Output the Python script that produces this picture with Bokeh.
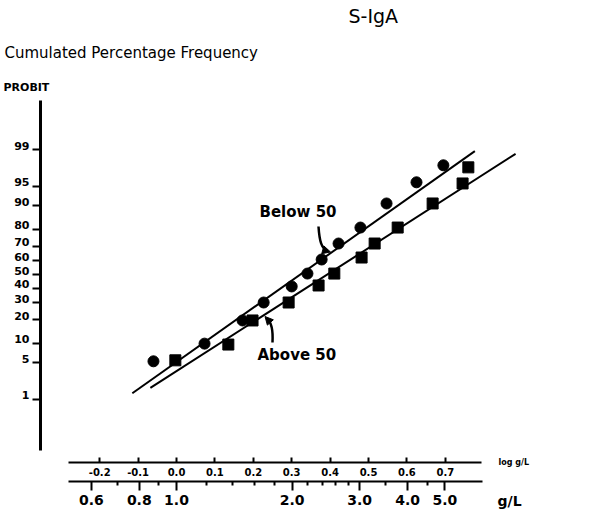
import math
from statistics import NormalDist
from bokeh.plotting import figure
from bokeh.models import (Range1d, LinearAxis, FixedTicker, CustomJSTickFormatter,
                          PrintfTickFormatter, Label, Arrow, NormalHead)
from bokeh.embed import file_html
from bokeh.resources import INLINE

# ---------------- data ----------------
prob_tick_pct = [1, 5, 10, 20, 30, 40, 50, 60, 70, 80, 90, 95, 99]
log_ticks = [-0.2, -0.1, 0.0, 0.1, 0.2, 0.3, 0.4, 0.5, 0.6, 0.7]
conc_ticks = [0.6, 0.8, 1.0, 2.0, 3.0, 4.0, 5.0]
conc_minor = [0.7, 0.9, 1.2, 1.4, 1.6, 1.8, 2.2, 2.4, 2.6, 2.8, 3.5, 4.5]

# "Below 50" group (circles): log g/L and cumulated percentage
below_log = [-0.060, 0.073, 0.172, 0.227, 0.300, 0.341, 0.378, 0.422, 0.479, 0.547, 0.625, 0.695]
below_pct = [5.3, 9.9, 19.6, 30.1, 41.2, 50.7, 61.0, 71.8, 80.9, 90.7, 95.7, 97.9]
# "Above 50" group (squares)
above_log = [-0.003, 0.135, 0.198, 0.292, 0.370, 0.411, 0.482, 0.516, 0.576, 0.667, 0.745, 0.760]
above_pct = [5.5, 9.6, 19.6, 30.1, 41.9, 50.7, 62.4, 71.8, 80.9, 90.7, 95.5, 97.7]
# fitted straight lines (end points)
below_fit_log = [-0.115, 0.777]
below_fit_pct = [1.35, 98.92]
above_fit_log = [-0.068, 0.883]
above_fit_pct = [1.74, 98.77]

nd = NormalDist()


def probit(pcts):
    return [nd.inv_cdf(v / 100.0) for v in pcts]


# ---------------- layout helpers (page pixel -> data) ----------------
W, H = 595, 520
PX0, PXU = 176.0, 384.0     # page x of log 0, pixels per log unit
PY0, PYU = 274.0, 53.7      # page y of probit 0, pixels per probit unit


def xd(px):
    return (px - PX0) / PXU


def yd(py):
    return (PY0 - py) / PYU


FONT = "DejaVu Sans"

p = figure(frame_width=W, frame_height=H,
           min_border_left=0, min_border_top=0, min_border_right=0, min_border_bottom=0,
           x_range=Range1d(xd(0), xd(W)), y_range=Range1d(yd(H), yd(0)),
           x_axis_location=None, y_axis_location=None,
           output_backend="svg", toolbar_location=None,
           outline_line_color=None, background_fill_color="white", border_fill_color="white")
p.grid.visible = False

# ---- probit axis: line + ticks ----
yt = probit(prob_tick_pct)
yax = LinearAxis(ticker=FixedTicker(ticks=yt, minor_ticks=[]),
                 formatter=CustomJSTickFormatter(code="return '';"),
                 fixed_location=xd(40), bounds=(yd(450), yd(100)),
                 axis_line_width=3, axis_line_color="black",
                 major_tick_line_width=2, major_tick_line_color="black",
                 major_tick_out=8, major_tick_in=0, minor_tick_out=0, minor_tick_in=0,
                 major_label_standoff=0, major_label_text_font_size="1px")
p.add_layout(yax, "left")

# ---- probit axis labels (sitting just above their ticks) ----
shift = 4.0 / PYU
p.extra_y_ranges = {"lab": Range1d(yd(H) - shift, yd(0) - shift)}
ylab = LinearAxis(y_range_name="lab",
                  ticker=FixedTicker(ticks=yt, minor_ticks=[]),
                  formatter=CustomJSTickFormatter(
                      args=dict(t=yt, l=[str(v) for v in prob_tick_pct]),
                      code="""
let best = 0, bd = 1e9;
for (let i = 0; i < t.length; i++) { const dd = Math.abs(t[i] - tick); if (dd < bd) { bd = dd; best = i; } }
return l[best];"""),
                  fixed_location=xd(32),
                  axis_line_color=None, major_tick_line_color=None, minor_tick_line_color=None,
                  major_tick_out=0, major_tick_in=0, minor_tick_out=0, minor_tick_in=0,
                  major_label_standoff=3,
                  major_label_text_font=FONT, major_label_text_font_style="bold",
                  major_label_text_font_size="11px", major_label_text_color="black")
p.add_layout(ylab, "left")

# ---- log g/L axis ----
xa1 = LinearAxis(ticker=FixedTicker(ticks=log_ticks, minor_ticks=[]),
                 formatter=PrintfTickFormatter(format="%.1f"),
                 fixed_location=yd(462), bounds=(xd(68), xd(481)),
                 axis_line_width=2, axis_line_color="black",
                 major_tick_in=5, major_tick_out=0, major_tick_line_width=2,
                 minor_tick_in=0, minor_tick_out=0,
                 major_label_standoff=5,
                 major_label_text_font=FONT, major_label_text_font_style="bold",
                 major_label_text_font_size="10px", major_label_text_color="black")
p.add_layout(xa1, "below")

# ---- g/L axis ----
xa2 = LinearAxis(ticker=FixedTicker(ticks=[math.log10(c) for c in conc_ticks],
                                    minor_ticks=[math.log10(c) for c in conc_minor]),
                 formatter=CustomJSTickFormatter(code="return Math.pow(10, tick).toFixed(1);"),
                 fixed_location=yd(481), bounds=(xd(68), xd(482)),
                 axis_line_width=2, axis_line_color="black",
                 major_tick_out=9, major_tick_in=0, major_tick_line_width=2,
                 minor_tick_out=4, minor_tick_in=0, minor_tick_line_width=2,
                 major_label_standoff=4,
                 major_label_text_font=FONT, major_label_text_font_style="bold",
                 major_label_text_font_size="14px", major_label_text_color="black")
p.add_layout(xa2, "below")

# ---- fitted lines and points ----
p.line(below_fit_log, probit(below_fit_pct), line_width=2, line_color="black")
p.line(above_fit_log, probit(above_fit_pct), line_width=2, line_color="black")
p.scatter(below_log, probit(below_pct), marker="circle", size=11,
          fill_color="black", line_color="black")
p.scatter(above_log, probit(above_pct), marker="square", size=11,
          fill_color="black", line_color="black")


# ---- texts (positions given by their vertical centre) ----
def txt(text, px, py, size, bold=False):
    p.add_layout(Label(x=xd(px), y=yd(py), text=text, text_font=FONT,
                       text_font_size=f"{size}px",
                       text_font_style="bold" if bold else "normal",
                       text_align="left", text_baseline="middle", text_color="black"))


txt("S-IgA", 348, 15, 19)
txt("Cumulated Percentage Frequency", 4, 52, 15)
txt("PROBIT", 3, 87, 11, bold=True)
txt("Below 50", 259, 211, 15, bold=True)
txt("Above 50", 257, 354, 15, bold=True)
txt("log g/L", 498, 462, 8, bold=True)
txt("g/L", 497, 500, 14, bold=True)

# ---- curved pointer arrows ----
p.bezier(x0=[xd(318)], y0=[yd(226)], x1=[xd(327)], y1=[yd(250)],
         cx0=[xd(319)], cy0=[yd(241)], cx1=[xd(321)], cy1=[yd(248)],
         line_width=2.5, line_color="black")
p.add_layout(Arrow(end=NormalHead(size=8, fill_color="black", line_color="black"),
                   x_start=xd(323), y_start=yd(249.5), x_end=xd(330), y_end=yd(251.5),
                   line_width=2, line_color="black"))
p.bezier(x0=[xd(272)], y0=[yd(342)], x1=[xd(267)], y1=[yd(319)],
         cx0=[xd(272.5)], cy0=[yd(332)], cx1=[xd(271)], cy1=[yd(322)],
         line_width=2.5, line_color="black")
p.add_layout(Arrow(end=NormalHead(size=8, fill_color="black", line_color="black"),
                   x_start=xd(269), y_start=yd(321), x_end=xd(264.5), y_end=yd(316),
                   line_width=2, line_color="black"))

open("out.html", "w").write(file_html(p, INLINE))
